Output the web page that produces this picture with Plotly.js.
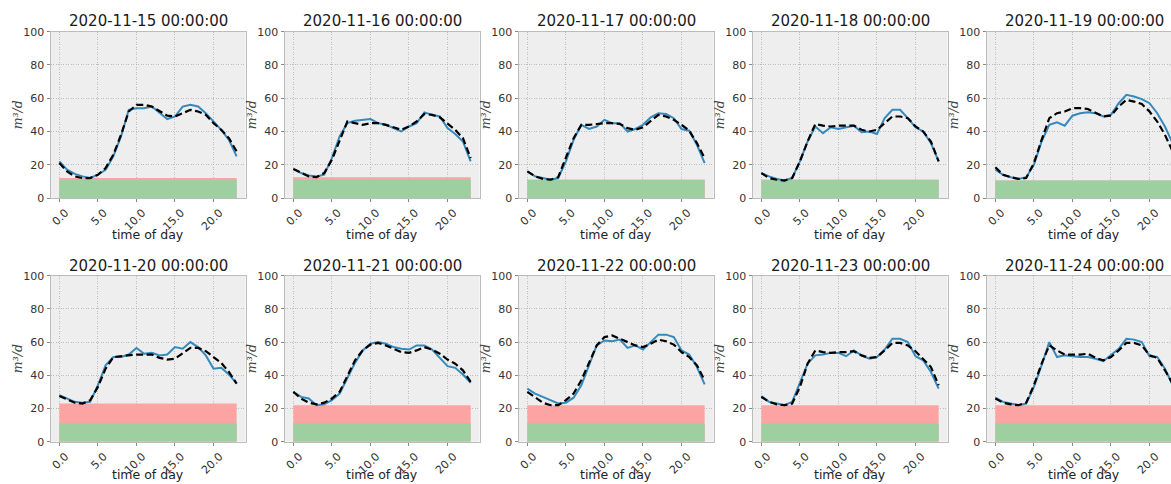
<!DOCTYPE html>
<html>
<head>
<meta charset="utf-8">
<script src="https://cdn.plot.ly/plotly-3.0.1.min.js"></script>
<style>
html,body{margin:0;padding:0;background:#fff;overflow:hidden;}
#chart{width:1190px;height:484px;}
</style>
</head>
<body>
<div id="chart"></div>
<script>
// ---- data ----
const hours = [0,1,2,3,4,5,6,7,8,9,10,11,12,13,14,15,16,17,18,19,20,21,22,23];
const xTickVals = [0,5,10,15,20];
const xTickText = ["0.0","5.0","10.0","15.0","20.0"];
const yTickVals = [0,20,40,60,80,100];
const dates = ["2020-11-15 00:00:00","2020-11-16 00:00:00","2020-11-17 00:00:00","2020-11-18 00:00:00","2020-11-19 00:00:00",
               "2020-11-20 00:00:00","2020-11-21 00:00:00","2020-11-22 00:00:00","2020-11-23 00:00:00","2020-11-24 00:00:00"];

const actual_1115 = [22,17,14.5,13,12,14,17,25,37,53,54,54,55,51,47.5,49,55,56,55,51,46,41,35,25];
const pred_1115   = [21,16,13,12,12,14,18,26,38,52,56,56,55,52,49.5,49,51,53,52,50,45,41,36,28];
const actual_1116 = [17.5,15,13.5,13,14,24,37,45,46.5,47,47.5,45,44,42,40,43,45,51.5,50,49,42,38.5,34,22];
const pred_1116   = [17.5,15,13,12.5,15,23,35,46,45,44,45,45,44,42.5,41,43,46,50.5,50,48.5,45,41,36,24];
const actual_1117 = [16,13,12,11,12,22,35,44,41.5,43,47,45,45,40,41.5,44,48.5,51,50.5,48,41.5,40.5,32,21];
const pred_1117   = [16,13,11.5,11,12.5,24,36,44,44,44.5,45,45,44.5,42,41,42.5,46.5,50,49,47,44,40.5,33,24];
const actual_1118 = [15,13,11.5,10.5,12,22,34,43,39,42.5,41.5,42.5,43.5,39.5,40,38.5,48,53,53,48,42.5,40,33,22];
const pred_1118   = [15,12,11,10.5,12,22,34,44.5,43.5,43,43.5,43.5,43.5,41,40,41,45,49,49,48,43,40,34,22];
const actual_1119 = [17,14,12.5,11.5,12.5,20,34,44,45.5,43.5,49.5,51,51.5,51,49,50,57,62,61,59.5,57,51,43,33];
const pred_1119   = [18.5,14,12.5,11.5,12,21,35,48,51,52,54,54,53.5,51,49,49.5,55,59,58,56.5,52,46,38,28];
const actual_1120 = [28,26,24,23.5,24,34,46,51,51,52.5,56.5,53,53.5,52,52.5,57,56,60,57,52,44,44.5,40.5,35];
const pred_1120   = [27.5,25.5,23.5,23,25,33,44,51,51.5,52,52.5,52.5,52.5,50.5,49.5,50,53,56.5,56.5,54.5,51,47.5,42,35];
const actual_1121 = [30,27,26,22,22.5,25,29,38,47.5,55,59,60,59,57,56,55.5,58,58,55.5,50.5,45.5,44.5,40.5,35.5];
const pred_1121   = [30,26,23.5,22.5,23.5,26,30,40,49,55,58.5,59.5,58,56,54,53.5,55,57,55.5,53,49.5,47,43,36];
const actual_1122 = [32,29,27,25,23,23.5,26.5,34,46,58,61,60.5,61.5,56.5,58,55.5,60,64.5,64.5,63,55,52.5,45,34.5];
const pred_1122   = [30,26.5,23.5,22,22,25,29,37,48,58,63,64,62,60,58,57,59,61.5,60.5,58.5,54,51,46,37];
const actual_1123 = [27.5,24,23,22,24,35,47,52,52.5,53.5,53.5,51.5,55,52,50,51,55.5,62,62,60,51.5,49,42,32];
const pred_1123   = [27,24,22.5,22,23,33,47,55,54,53.5,54,54,54.5,52,50.5,51,55,59.5,59.5,58,54.5,50,45,34];
const actual_1124 = [26.5,24,23,22,23,33,46,60,51,52,51.5,51,51,50,48.5,52,56,62,61.5,60,51.5,51,44,34];
const pred_1124   = [26,23.5,22.5,22,23.5,34,47,58,55,52.5,52.5,52.5,53,50.5,49,51,55,59.5,59.5,58,52,50.5,43,35];

const redLimit   = [12,12.5,11,11,10.5,23,22,22,22,22];
const greenLimit = [11,11,11,11,10.5,11,11,11,11,11];

const actualSeries = [actual_1115,actual_1116,actual_1117,actual_1118,actual_1119,actual_1120,actual_1121,actual_1122,actual_1123,actual_1124];
const predSeries   = [pred_1115,pred_1116,pred_1117,pred_1118,pred_1119,pred_1120,pred_1121,pred_1122,pred_1123,pred_1124];

// ---- layout geometry ----
const W = 1190, H = 484;
const colLeft = k => 50.5 + 234*k;
const plotW = 195;
const rowTop = [31.7, 275.7], rowBot = [198, 441.7];

const traces = [];
const layout = {
  width: W, height: H,
  margin: {l:0, r:0, t:0, b:0},
  paper_bgcolor: '#ffffff',
  plot_bgcolor: '#eeeeee',
  showlegend: false,
  font: {family: 'DejaVu Sans', color: '#333'},
  annotations: []
};

for (let i = 0; i < 10; i++) {
  const row = Math.floor(i/5), col = i % 5;
  const n = i === 0 ? '' : String(i+1);
  const xa = 'x' + n, ya = 'y' + n;
  const endX = [hours[0], hours[hours.length-1]];
  traces.push({x: endX, y: [redLimit[i], redLimit[i]], xaxis: xa, yaxis: ya, mode: 'none', fill: 'tozeroy', fillcolor: '#fca3a3', hoverinfo: 'skip'});
  traces.push({x: endX, y: [greenLimit[i], greenLimit[i]], xaxis: xa, yaxis: ya, mode: 'none', fill: 'tozeroy', fillcolor: '#9dcfa1', hoverinfo: 'skip'});
  traces.push({x: hours, y: actualSeries[i], xaxis: xa, yaxis: ya, mode: 'lines', line: {color: '#348ABD', width: 2}});
  traces.push({x: hours, y: predSeries[i], xaxis: xa, yaxis: ya, mode: 'lines', line: {color: '#000000', width: 2.2, dash: '7px,3.5px'}});

  const x0 = colLeft(col)/W, x1 = (colLeft(col)+plotW)/W;
  const y0 = 1 - rowBot[row]/H, y1 = 1 - rowTop[row]/H;
  layout['xaxis' + n] = {
    domain: [x0, x1], anchor: ya, range: [-1.15, 24.15],
    tickvals: xTickVals, ticktext: xTickText, tickangle: -45,
    tickfont: {size: 11, color: '#333'}, ticks: 'outside', ticklen: 3, tickcolor: '#888',
    ticklabelshift: 6,
    showgrid: true, gridcolor: '#b0b0b0', griddash: '1px,1.5px', gridwidth: 0.8,
    showline: true, mirror: true, linecolor: '#bcbcbc', linewidth: 1, zeroline: false
  };
  layout['yaxis' + n] = {
    domain: [y0, y1], anchor: xa, range: [0, 100],
    tickvals: yTickVals, tickfont: {size: 11, color: '#333'},
    ticks: 'outside', ticklen: 3, tickcolor: '#888',
    showgrid: true, gridcolor: '#b0b0b0', griddash: '1px,1.5px', gridwidth: 0.8,
    showline: true, mirror: true, linecolor: '#bcbcbc', linewidth: 1, zeroline: false
  };
  const cx = (colLeft(col) + plotW/2)/W;
  layout.annotations.push({text: dates[i], xref: 'paper', yref: 'paper', x: cx, y: 1 - (row === 0 ? 21 : 266)/H,
    xanchor: 'center', yanchor: 'middle', showarrow: false, font: {size: 15, color: '#1a1a1a'}});
  layout.annotations.push({text: 'time of day', xref: 'paper', yref: 'paper', x: cx, y: 1 - (row === 0 ? 234 : 474)/H,
    xanchor: 'center', yanchor: 'middle', showarrow: false, font: {size: 12.5, color: '#222'}});
  layout.annotations.push({text: 'm³/d', xref: 'paper', yref: 'paper', x: (17.5 + 234*col)/W,
    y: 1 - ((rowTop[row]+rowBot[row])/2)/H, xanchor: 'center', yanchor: 'middle', textangle: -90, showarrow: false,
    font: {size: 12.5, color: '#444', family: 'DejaVu Serif', style: 'italic'}});
}

Plotly.newPlot('chart', traces, layout, {displayModeBar: false, staticPlot: true});
</script>
</body>
</html>
